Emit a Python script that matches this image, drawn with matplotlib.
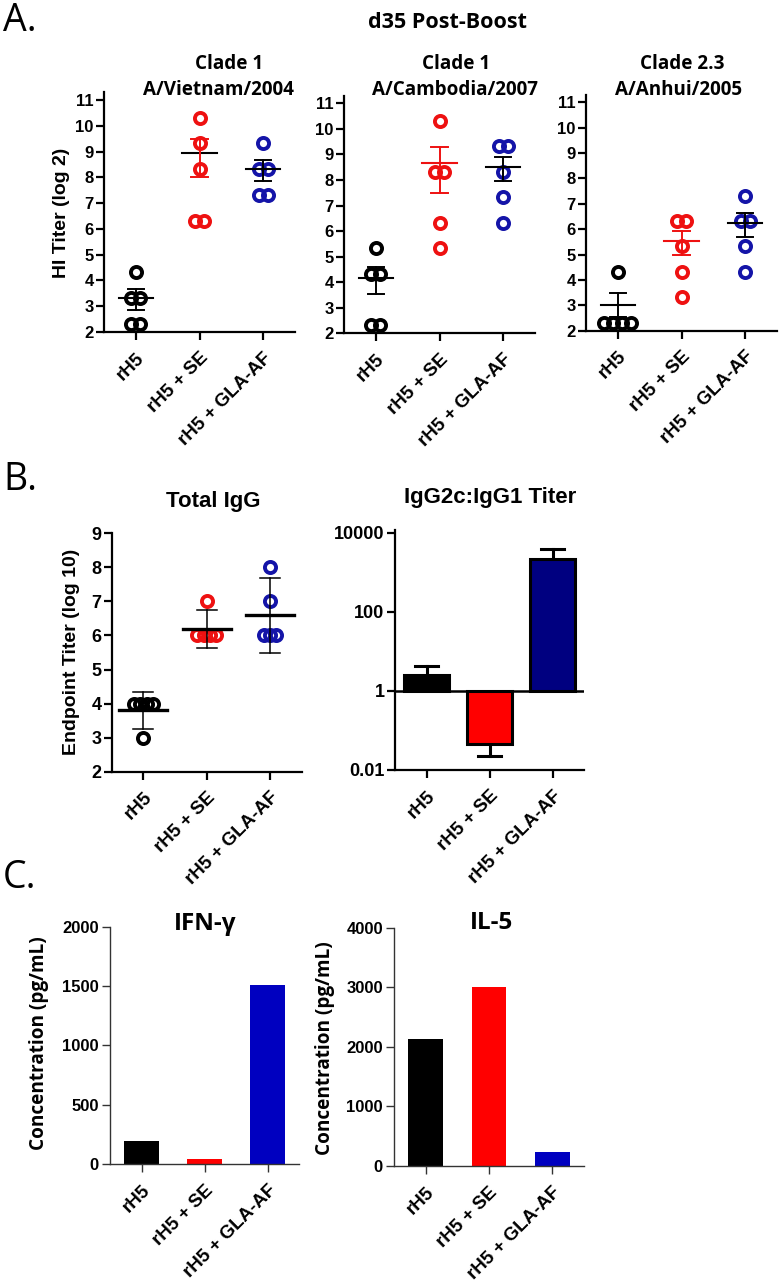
import numpy as np
import matplotlib
matplotlib.use("Agg")
import matplotlib.pyplot as plt
from matplotlib.ticker import FixedLocator, NullLocator

# ---------------- data ----------------
groups = ['rH5', 'rH5 + SE', 'rH5 + GLA-AF']

# Panel A: HI titers (log2), 5 animals per group
hi_vietnam = [[4.32, 3.32, 3.32, 2.32, 2.32],
              [10.32, 9.32, 8.32, 6.32, 6.32],
              [9.32, 8.32, 8.32, 7.32, 7.32]]
hi_vietnam_mean = [3.30, 8.93, 8.31]
hi_vietnam_lo = [2.85, 8.00, 7.86]
hi_vietnam_hi = [3.65, 9.49, 8.66]

hi_cambodia = [[5.32, 4.32, 4.32, 2.32, 2.32],
               [10.32, 8.32, 8.32, 6.32, 5.32],
               [9.32, 9.32, 8.32, 7.32, 6.32]]
hi_cambodia_mean = [4.18, 8.65, 8.50]
hi_cambodia_lo = [3.54, 7.50, 7.96]
hi_cambodia_hi = [4.60, 9.30, 8.90]

hi_anhui = [[4.32, 2.32, 2.32, 2.32, 2.32],
            [6.32, 6.32, 5.32, 4.32, 3.32],
            [7.32, 6.32, 6.32, 5.32, 4.32]]
hi_anhui_mean = [3.00, 5.55, 6.25]
hi_anhui_lo = [2.55, 4.98, 5.70]
hi_anhui_hi = [3.47, 5.94, 6.65]

# Panel B: total IgG endpoint titer (log10)
igg_total = [[4, 4, 4, 4, 3],
             [7, 6, 6, 6, 6],
             [8, 7, 6, 6, 6]]
igg_total_mean = [3.80, 6.20, 6.60]
igg_total_lo = [3.24, 5.64, 5.50]
igg_total_hi = [4.35, 6.75, 7.70]

# Panel B: IgG2c:IgG1 ratio (log scale, bars from 1)
ratio_vals = [2.6, 0.045, 2240]
ratio_err_end = [4.3, 0.022, 4000]

# Panel C: cytokines (pg/mL)
ifng_vals = [190, 40, 1505]
il5_vals = [2130, 3000, 240]

# ---------------- style ----------------
W, H = 782, 1283
fig = plt.figure(figsize=(W / 100, H / 100), dpi=100)

ARIAL = ['Liberation Sans', 'DejaVu Sans']
CALIB = ['Open Sans', 'DejaVu Sans']

BLACK = '#000000'
RED = '#EE1111'
BLUE = '#1414A8'
dot_colors = [BLACK, RED, BLUE]


def add_ax(x0, x1, ytop, ybot):
    return fig.add_axes([x0 / W, 1 - ybot / H, (x1 - x0) / W, (ybot - ytop) / H])


def style_axes(ax, lw=1.6, color='black', ticklen=5.5, tickfs=12, xfs=13.5):
    for s in ['top', 'right']:
        ax.spines[s].set_visible(False)
    for s in ['left', 'bottom']:
        ax.spines[s].set_linewidth(lw)
        ax.spines[s].set_color(color)
    ax.tick_params(axis='both', direction='out', length=ticklen, width=lw, color=color)
    ax.set_xlim(-0.5, 2.5)
    ax.set_xticks(range(len(groups)))
    ax.set_xticklabels(groups, rotation=45, ha='right', va='top',
                       rotation_mode='anchor', family=ARIAL,
                       fontweight='bold', fontsize=xfs)
    ax.tick_params(axis='x', pad=7)
    ax.tick_params(axis='y', pad=2)
    for lab in ax.get_yticklabels():
        lab.set_family(ARIAL)
        lab.set_fontweight('bold')
        lab.set_fontsize(tickfs)


def offsets(vals, d):
    vals = np.asarray(vals)
    off = np.zeros(len(vals))
    for v in np.unique(vals):
        idx = np.where(vals == v)[0]
        n = len(idx)
        off[idx] = (np.arange(n) - (n - 1) / 2) * d
    return off


def scatter_panel(ax, data, mean, lo, hi, mean_cols, err_cols, d=0.14,
                  mw=0.27, cw=0.13, mlw=1.5, elw=1.4):
    for i, vals in enumerate(data):
        xs = i + offsets(vals, d)
        ax.plot(xs, vals, 'o', ms=8, mfc='none', mec=dot_colors[i], mew=2.8,
                zorder=3, clip_on=False)
        ax.plot([i - mw, i + mw], [mean[i], mean[i]], color=mean_cols[i], lw=mlw, zorder=4)
        ax.plot([i, i], [lo[i], hi[i]], color=err_cols[i], lw=elw, zorder=4)
        for y in (lo[i], hi[i]):
            ax.plot([i - cw, i + cw], [y, y], color=err_cols[i], lw=elw, zorder=4)


# ---------------- Panel A ----------------
a_boxes = [(104, 295, 332), (344, 535, 333.3), (586, 777, 330.7)]
a_scale = [25.78, 25.56, 25.38]
a_data = [(hi_vietnam, hi_vietnam_mean, hi_vietnam_lo, hi_vietnam_hi),
          (hi_cambodia, hi_cambodia_mean, hi_cambodia_lo, hi_cambodia_hi),
          (hi_anhui, hi_anhui_mean, hi_anhui_lo, hi_anhui_hi)]
a_mean_cols = [[BLACK, BLACK, BLACK], [BLACK, RED, BLACK], [BLACK, RED, BLACK]]
a_err_cols = [[BLACK, RED, BLACK], [BLACK, RED, BLACK], [BLACK, RED, BLACK]]
a_titles = [('Clade 1', 'A/Vietnam/2004', 229, 218),
            ('Clade 1', 'A/Cambodia/2007', 456, 455),
            ('Clade 2.3', 'A/Anhui/2005', 682, 679)]

for k in range(3):
    x0, x1, ybot = a_boxes[k]
    ytop = ybot - 9.3 * a_scale[k]
    ax = add_ax(x0, x1, ytop, ybot)
    ax.set_ylim(2, 11.3)
    ax.set_yticks(range(2, 12))
    style_axes(ax)
    d, m, lo, hi = a_data[k]
    scatter_panel(ax, d, m, lo, hi, a_mean_cols[k], a_err_cols[k])
    t1, t2, cx1, cx2 = a_titles[k]
    fig.text(cx1 / W, 1 - 64 / H, t1, family=CALIB, fontweight='bold',
             fontsize=13.6, ha='center', va='center')
    fig.text(cx2 / W, 1 - 90 / H, t2, family=CALIB, fontweight='bold',
             fontsize=13.6, ha='center', va='center')

fig.text(62 / W, 1 - 213 / H, 'HI Titer (log 2)', rotation=90, family=ARIAL,
         fontweight='bold', fontsize=14, ha='center', va='center')
fig.text(447 / W, 1 - 23 / H, 'd35 Post-Boost', family=CALIB, fontweight='bold',
         fontsize=15.5, ha='center', va='center')

# ---------------- Panel B ----------------
axb1 = add_ax(111.7, 301.7, 533.3, 771.7)
axb1.set_ylim(2, 9)
axb1.set_yticks(range(2, 10))
style_axes(axb1, tickfs=13)
scatter_panel(axb1, igg_total, igg_total_mean, igg_total_lo, igg_total_hi,
              [BLACK] * 3, [BLACK] * 3, d=0.1, mw=0.38, cw=0.16, mlw=2.4, elw=1.1)
fig.text(213 / W, 1 - 501 / H, 'Total IgG', family=ARIAL, fontweight='bold',
         fontsize=16, ha='center', va='center')
fig.text(72 / W, 1 - 652 / H, 'Endpoint Titer (log 10)', rotation=90, family=ARIAL,
         fontweight='bold', fontsize=14, ha='center', va='center')

axb2 = add_ax(395, 584, 530, 770)
axb2.set_yscale('log')
axb2.set_ylim(0.01, 11900)
style_axes(axb2, tickfs=13)
axb2.yaxis.set_major_locator(FixedLocator([0.01, 1, 100, 10000]))
axb2.yaxis.set_minor_locator(NullLocator())
axb2.set_yticklabels(['0.01', '1', '100', '10000'], family=ARIAL,
                     fontweight='bold', fontsize=13)
bar_cols_b = ['#000000', '#FF0000', '#000080']
xs = np.arange(3)
heights = np.array(ratio_vals) - 1
axb2.bar(xs, heights, bottom=1, width=0.7, color=bar_cols_b, edgecolor='black',
         linewidth=2.2, zorder=2)
for i in range(3):
    v, e = ratio_vals[i], ratio_err_end[i]
    axb2.plot([i, i], [v, e], color='black', lw=2.2, zorder=1)
    axb2.plot([i - 0.19, i + 0.19], [e, e], color='black', lw=2.2, zorder=1)
axb2.axhline(1, color='black', lw=1.8, zorder=3)
fig.text(490 / W, 1 - 498 / H, 'IgG2c:IgG1 Titer', family=ARIAL, fontweight='bold',
         fontsize=16, ha='center', va='center')

# ---------------- Panel C ----------------
c_cols = ['#000000', '#FF0000', '#0000C0']
axc1 = add_ax(110, 299, 926.7, 1164)
axc1.set_ylim(0, 2000)
axc1.set_yticks([0, 500, 1000, 1500, 2000])
style_axes(axc1, lw=1.0, color='#333333', ticklen=6, tickfs=12)
axc1.bar(xs, ifng_vals, width=0.55, color=c_cols)
fig.text(205 / W, 1 - 924 / H, 'IFN-γ', family=CALIB, fontweight='bold',
         fontsize=17.5, ha='center', va='center')
fig.text(39 / W, 1 - 1043 / H, 'Concentration (pg/mL)', rotation=90, family=CALIB,
         fontweight='bold', fontsize=13.7, ha='center', va='center')

axc2 = add_ax(394, 584, 927.7, 1166)
axc2.set_ylim(0, 4000)
axc2.set_yticks([0, 1000, 2000, 3000, 4000])
style_axes(axc2, lw=1.0, color='#333333', ticklen=6, tickfs=12)
axc2.bar(xs, il5_vals, width=0.55, color=c_cols)
fig.text(492 / W, 1 - 923 / H, 'IL-5', family=CALIB, fontweight='bold',
         fontsize=17.5, ha='center', va='center')
fig.text(325 / W, 1 - 1048 / H, 'Concentration (pg/mL)', rotation=90, family=CALIB,
         fontweight='bold', fontsize=13.7, ha='center', va='center')

# ---------------- panel letters ----------------
for lab, y in [('A.', 21), ('B.', 480), ('C.', 878)]:
    fig.text(3 / W, 1 - y / H, lab, family=CALIB, fontsize=27, ha='left', va='center')

fig.savefig('out.png', dpi=100)
